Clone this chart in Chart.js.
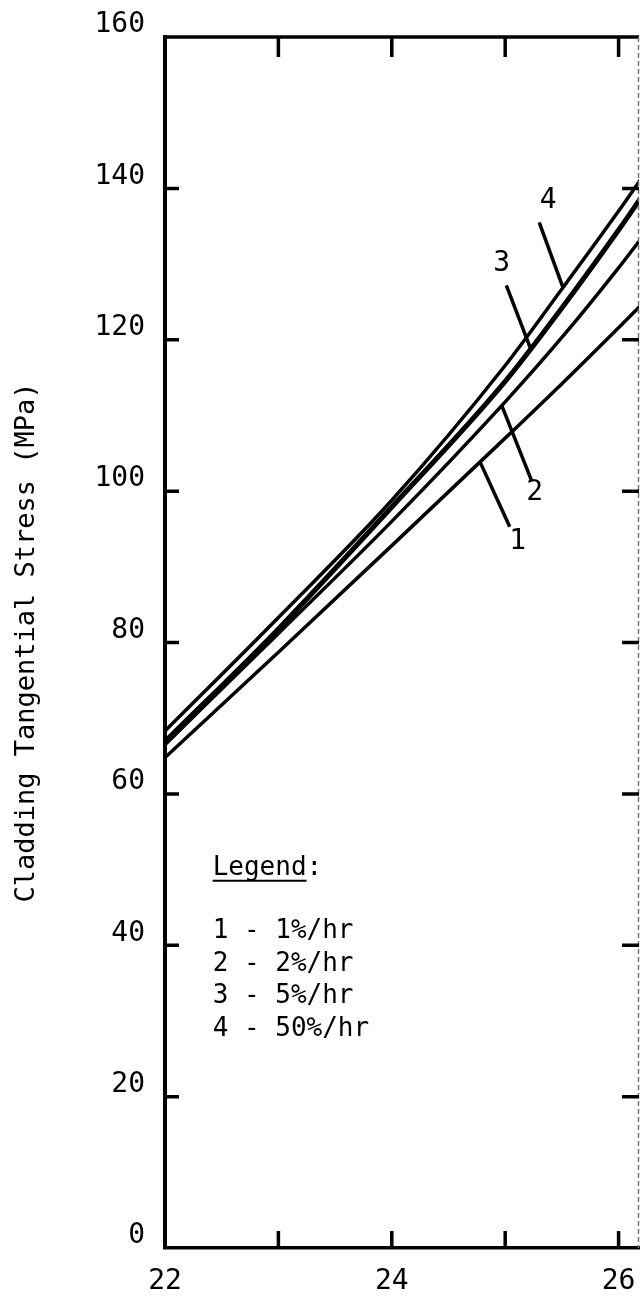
<!DOCTYPE html>
<html>
<head>
<meta charset="utf-8">
<script src="https://cdn.jsdelivr.net/npm/chart.js@4.4.0/dist/chart.umd.min.js"></script>
<style>
  body { margin: 0; background: #fff; }
  canvas { display: block; }
</style>
</head>
<body>
<canvas id="stress_chart" width="640" height="1298"></canvas>
<script>
// strain values where each curve is sampled
const strain = [22, 23, 24, 25, 25.5, 26, 26.2];
// cladding tangential stress (MPa) per heating rate
const rate1 = [64.8, 78.7, 92.8, 107.0, 114.2, 121.6, 124.6];
const rate2 = [66.5, 81.2, 96.0, 111.8, 120.3, 129.5, 133.4];
const rate5 = [66.9, 81.8, 97.9, 114.5, 124.2, 134.5, 138.8];
const rate50 = [68.3, 83.3, 98.8, 116.6, 126.7, 137.0, 141.3];

const curveNames = ['1', '2', '3', '4'];
const legendLines = ['1 - 1%/hr', '2 - 2%/hr', '3 - 5%/hr', '4 - 50%/hr'];
const xTicks = [22, 23, 24, 25, 26];
const xTickLabels = ['22', '', '24', '', '26'];
const yTicks = [0, 20, 40, 60, 80, 100, 120, 140, 160];

const FONT = '"DejaVu Sans Mono", "Liberation Mono", monospace';

const toPoints = (vals) => vals.map((v, i) => ({x: strain[i], y: v}));

// leader lines from each curve out to its number
const leaders = [
  {text: '1', from: [24.78, 103.8], to: [25.04, 95.3], at: [25.11, 93.3]},
  {text: '2', from: [24.97, 111.3], to: [25.23, 101.5], at: [25.26, 99.8]},
  {text: '3', from: [25.23, 118.6], to: [25.01, 127.2], at: [24.97, 130.0]},
  {text: '4', from: [25.51, 126.9], to: [25.30, 135.5], at: [25.38, 138.4]}
];

// box edges + inward tick marks on all four sides
const framePlugin = {
  id: 'frame',
  afterDatasetsDraw(chart) {
    const {ctx, chartArea: a, scales: {x, y}} = chart;
    ctx.save();
    ctx.strokeStyle = '#000';
    ctx.lineCap = 'butt';

    // top edge
    ctx.lineWidth = 3.5;
    ctx.beginPath();
    ctx.moveTo(a.left - 2, a.top);
    ctx.lineTo(a.right, a.top);
    ctx.stroke();

    // right edge (faint)
    ctx.strokeStyle = '#777';
    ctx.lineWidth = 1.5;
    ctx.setLineDash([5, 3]);
    ctx.beginPath();
    ctx.moveTo(a.right - 0.5, a.top);
    ctx.lineTo(a.right - 0.5, a.bottom);
    ctx.stroke();
    ctx.setLineDash([]);

    ctx.strokeStyle = '#000';
    ctx.lineWidth = 3.5;
    xTicks.forEach(v => {
      if (v === xTicks[0]) return;
      const px = x.getPixelForValue(v);
      ctx.beginPath();
      ctx.moveTo(px, a.bottom);
      ctx.lineTo(px, a.bottom - 17);
      ctx.moveTo(px, a.top);
      ctx.lineTo(px, a.top + 20);
      ctx.stroke();
    });
    yTicks.forEach(v => {
      if (v === 0 || v === 160) return;
      const py = y.getPixelForValue(v);
      ctx.beginPath();
      ctx.moveTo(a.left, py);
      ctx.lineTo(a.left + 14, py);
      ctx.moveTo(a.right, py);
      ctx.lineTo(a.right - 17, py);
      ctx.stroke();
    });

    // curve numbers with leaders
    ctx.lineWidth = 3.5;
    ctx.fillStyle = '#000';
    ctx.font = '28px ' + FONT;
    ctx.textAlign = 'center';
    ctx.textBaseline = 'middle';
    leaders.forEach(l => {
      ctx.beginPath();
      ctx.moveTo(x.getPixelForValue(l.from[0]), y.getPixelForValue(l.from[1]));
      ctx.lineTo(x.getPixelForValue(l.to[0]), y.getPixelForValue(l.to[1]));
      ctx.stroke();
      ctx.fillText(l.text, x.getPixelForValue(l.at[0]), y.getPixelForValue(l.at[1]));
    });

    // legend block
    const lx = x.getPixelForValue(22.42);
    const ly = y.getPixelForValue(49.3);
    ctx.textAlign = 'left';
    ctx.textBaseline = 'alphabetic';
    ctx.font = '26px ' + FONT;
    ctx.fillText('Legend:', lx, ly);
    const w = ctx.measureText('Legend').width;
    ctx.lineWidth = 2;
    ctx.beginPath();
    ctx.moveTo(lx, ly + 6);
    ctx.lineTo(lx + w, ly + 6);
    ctx.stroke();
    legendLines.forEach((t, i) => {
      ctx.fillText(t, lx, ly + 63 + i * 32.7);
    });
    ctx.restore();
  }
};

const datasets = [rate1, rate2, rate5, rate50].map((vals, i) => ({
  label: curveNames[i],
  data: toPoints(vals),
  borderColor: '#000',
  borderWidth: i === 2 ? 5 : 3.5,
  pointRadius: 0,
  cubicInterpolationMode: 'monotone',
  fill: false,
  clip: 0
}));

new Chart(document.getElementById('stress_chart'), {
  type: 'line',
  data: {datasets},
  options: {
    responsive: false,
    animation: false,
    layout: {padding: {top: 37, right: 1, left: 0, bottom: 0}},
    plugins: {legend: {display: false}, tooltip: {enabled: false}},
    scales: {
      x: {
        type: 'linear',
        min: 22,
        max: 26.18,
        grid: {display: false, drawTicks: false},
        border: {display: true, color: '#000', width: 3.5},
        afterBuildTicks: (s) => { s.ticks = xTicks.map(v => ({value: v})); },
        afterFit: (s) => { s.height = 50; s.paddingLeft = 0; s.paddingRight = 0; },
        ticks: {
          color: '#000',
          padding: 17,
          maxRotation: 0,
          autoSkip: false,
          font: {family: FONT, size: 28},
          callback: (v) => xTickLabels[xTicks.indexOf(v)]
        }
      },
      y: {
        min: 0,
        max: 160,
        grid: {display: false, drawTicks: false},
        border: {display: true, color: '#000', width: 4},
        afterBuildTicks: (s) => { s.ticks = yTicks.map(v => ({value: v})); },
        afterFit: (s) => { s.width = 165; s.paddingTop = 0; s.paddingBottom = 0; },
        title: {
          display: true,
          text: 'Cladding Tangential Stress (MPa)',
          color: '#000',
          font: {family: FONT, size: 27},
          padding: {top: 11, bottom: 0}
        },
        ticks: {
          color: '#000',
          padding: 20,
          labelOffset: -12,
          font: {family: FONT, size: 28}
        }
      }
    }
  },
  plugins: [framePlugin]
});
</script>
</body>
</html>
